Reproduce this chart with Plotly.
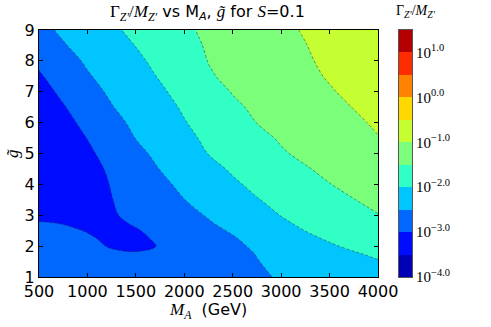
import numpy as np
import plotly.graph_objects as go

# ---------------- data ----------------
mass_A = [500, 750, 1000, 1250, 1500, 1750, 2000, 2250, 2500, 2750, 3000, 3250, 3500, 3750, 4000]
g_tilde = [1, 1.5, 1.75, 2, 2.25, 2.5, 2.75, 3, 3.5, 4, 4.5, 5, 5.5, 6, 6.5, 7, 7.5, 8, 8.5, 9]

# log10(Gamma_Z'/M_Z'), one row per g_tilde value, columns follow mass_A
log_width_ratio = [
    [-2.78, -2.80, -2.83, -2.86, -2.87, -2.83, -2.76, -2.68, -2.61, -2.55, -2.47, -2.39, -2.31, -2.23, -2.15],
    [-2.82, -2.85, -2.88, -2.92, -2.93, -2.86, -2.76, -2.68, -2.60, -2.51, -2.42, -2.32, -2.22, -2.13, -2.03],
    [-2.85, -2.88, -2.91, -2.96, -2.98, -2.90, -2.78, -2.69, -2.59, -2.49, -2.37, -2.26, -2.15, -2.04, -1.92],
    [-2.87, -2.90, -2.94, -3.02, -3.05, -2.99, -2.85, -2.71, -2.58, -2.44, -2.31, -2.18, -2.05, -1.92, -1.80],
    [-2.90, -2.93, -2.975, -3.04, -3.06, -2.955, -2.81, -2.67, -2.53, -2.38, -2.24, -2.09, -1.95, -1.83, -1.70],
    [-2.93, -2.96, -3.01, -3.08, -3.035, -2.875, -2.745, -2.60, -2.46, -2.30, -2.15, -1.995, -1.86, -1.72, -1.58],
    [-2.98, -3.01, -3.08, -3.10, -2.95, -2.81, -2.67, -2.53, -2.38, -2.22, -2.06, -1.92, -1.79, -1.67, -1.54],
    [-3.08, -3.12, -3.14, -3.04, -2.90, -2.76, -2.62, -2.47, -2.31, -2.15, -1.99, -1.88, -1.76, -1.64, -1.515],
    [-3.30, -3.26, -3.16, -3.01, -2.84, -2.67, -2.505, -2.34, -2.18, -2.02, -1.89, -1.76, -1.64, -1.51, -1.38],
    [-3.35, -3.30, -3.18, -2.98, -2.79, -2.59, -2.41, -2.23, -2.06, -1.91, -1.78, -1.64, -1.51, -1.39, -1.26],
    [-3.36, -3.30, -3.15, -2.93, -2.71, -2.49, -2.31, -2.12, -1.95, -1.81, -1.67, -1.53, -1.41, -1.29, -1.18],
    [-3.36, -3.28, -3.08, -2.84, -2.61, -2.39, -2.19, -1.99, -1.84, -1.69, -1.54, -1.42, -1.31, -1.19, -1.08],
    [-3.34, -3.24, -2.99, -2.74, -2.49, -2.30, -2.10, -1.92, -1.76, -1.60, -1.46, -1.35, -1.23, -1.12, -1.015],
    [-3.30, -3.14, -2.88, -2.63, -2.41, -2.22, -2.02, -1.85, -1.67, -1.495, -1.39, -1.28, -1.17, -1.06, -0.95],
    [-3.28, -3.03, -2.77, -2.52, -2.32, -2.14, -1.95, -1.76, -1.57, -1.43, -1.32, -1.21, -1.10, -0.99, -0.87],
    [-3.17, -2.91, -2.65, -2.43, -2.24, -2.06, -1.86, -1.66, -1.48, -1.37, -1.25, -1.14, -1.03, -0.92, -0.81],
    [-3.05, -2.79, -2.54, -2.34, -2.16, -1.97, -1.76, -1.54, -1.41, -1.30, -1.19, -1.08, -0.97, -0.86, -0.74],
    [-2.92, -2.67, -2.44, -2.26, -2.08, -1.89, -1.69, -1.49, -1.38, -1.27, -1.16, -1.04, -0.93, -0.82, -0.70],
    [-2.70, -2.53, -2.35, -2.17, -1.99, -1.80, -1.62, -1.46, -1.35, -1.23, -1.12, -1.01, -0.89, -0.78, -0.67],
    [-2.62, -2.43, -2.25, -2.07, -1.90, -1.73, -1.56, -1.43, -1.31, -1.20, -1.08, -0.97, -0.85, -0.74, -0.63],
]

level_start = -4.0
level_end = 1.5
level_step = 0.5

x_tick_vals = [500, 1000, 1500, 2000, 2500, 3000, 3500, 4000]
y_tick_vals = [1, 2, 3, 4, 5, 6, 7, 8, 9]
cbar_tick_vals = [-4, -3, -2, -1, 0, 1]
cbar_tick_text = ["10<sup>\u22124.0</sup>", "10<sup>\u22123.0</sup>", "10<sup>\u22122.0</sup>",
                  "10<sup>\u22121.0</sup>", "10<sup>0.0</sup>", "10<sup>1.0</sup>"]

# ---------------- style ----------------
band_colors = [
    "rgb(0,0,180)", "rgb(0,12,255)", "rgb(0,104,255)", "rgb(0,197,255)",
    "rgb(49,255,198)", "rgb(123,255,123)", "rgb(198,255,49)", "rgb(255,216,0)",
    "rgb(255,130,0)", "rgb(255,44,0)", "rgb(180,0,0)",
]
n_bands = len(band_colors)

# contour fill colours: plotly samples band k at fraction (k+1.5)/12
contour_scale = [[0.0, band_colors[0]]]
for k, c in enumerate(band_colors):
    contour_scale.append([(k + 1) / 12, c])
    contour_scale.append([(k + 2) / 12, c])

# colourbar (drawn as a heatmap column)
bar_scale = []
for k, c in enumerate(band_colors):
    bar_scale.append([k / n_bands, c])
    bar_scale.append([(k + 1) / n_bands, c])
band_centers = list(np.arange(level_start + level_step / 2, level_end, level_step))

W, H = 491, 327
L, R, T, B = 39, 412, 30, 277   # pixel box covering plot + colourbar
pw, ph = R - L, B - T
plot_right = 378
cb_left = 399

def px(x):
    return (x - L) / pw

def py(y):
    return (B - y) / ph

SERIF = "Liberation Serif"
SANS = "DejaVu Sans"

fig = go.Figure()
fig.add_trace(go.Contour(
    x=mass_A, y=g_tilde, z=log_width_ratio,
    autocontour=False,
    contours=dict(start=level_start, end=level_end, size=level_step, coloring="fill"),
    colorscale=contour_scale, showscale=False,
    line=dict(color="rgba(30,30,30,0.75)", width=0.6, dash="3px,2px", smoothing=1.0),
    xaxis="x", yaxis="y", hoverinfo="skip",
))
fig.add_trace(go.Heatmap(
    x=[0], y=band_centers, z=[[k] for k in range(n_bands)],
    zmin=-0.5, zmax=n_bands - 0.5, colorscale=bar_scale, showscale=False,
    xaxis="x2", yaxis="y2", hoverinfo="skip",
))

axis_common = dict(showline=True, linecolor="black", linewidth=1, mirror="allticks",
                   ticks="inside", ticklen=4, tickcolor="black", showgrid=False, zeroline=False,
                   tickfont=dict(family=SANS, size=16, color="black"))

fig.update_layout(
    width=W, height=H,
    margin=dict(l=L, r=W - R, t=T, b=H - B, pad=0),
    paper_bgcolor="white", plot_bgcolor="white",
    showlegend=False,
    xaxis=dict(domain=[0, px(plot_right)], range=[500, 4000], tickvals=x_tick_vals,
               anchor="y", **axis_common),
    yaxis=dict(domain=[0, 1], range=[1, 9], tickvals=y_tick_vals, anchor="x", **axis_common),
    xaxis2=dict(domain=[px(cb_left), 1], range=[-0.5, 0.5], showticklabels=False, ticks="",
                showline=True, mirror=True, linecolor="#555", linewidth=1, showgrid=False,
                zeroline=False, anchor="y2"),
    yaxis2=dict(domain=[0, 1], range=[level_start, level_end], side="right", anchor="x2",
                tickvals=cbar_tick_vals, ticktext=cbar_tick_text, ticks="", showline=True,
                mirror=True, linecolor="#555", linewidth=1, showgrid=False, zeroline=False,
                tickfont=dict(family=SERIF, size=15, color="black")),
)

serif_span = '<span style="font-family:%s;font-size:17px">' % SERIF
title_txt = (serif_span + "\u0393<sub><i>Z\u2032</i></sub>/<i>M</i><sub><i>Z\u2032</i></sub></span>"
             + " vs M<sub><i>A</i></sub>, " + serif_span + "<i>g\u0303</i></span> for "
             + serif_span + "<i>S</i></span>=0.1")
fig.add_annotation(text=title_txt, xref="paper", yref="paper", x=px(207), y=py(13),
                   xanchor="center", yanchor="middle", showarrow=False,
                   font=dict(family=SANS, size=16, color="black"))
fig.add_annotation(text="\u0393<sub><i>Z\u2032</i></sub>/<i>M</i><sub><i>Z\u2032</i></sub>",
                   xref="paper", yref="paper", x=px(416), y=py(12),
                   xanchor="center", yanchor="middle", showarrow=False,
                   font=dict(family=SERIF, size=14, color="black"))
fig.add_annotation(text=serif_span + "<i>M<sub>A</sub></i></span>  (GeV)",
                   xref="paper", yref="paper", x=px(208), y=py(311),
                   xanchor="center", yanchor="middle", showarrow=False,
                   font=dict(family=SANS, size=16, color="black"))
fig.add_annotation(text="<i>g\u0303</i>", xref="paper", yref="paper", x=px(12), y=py(153),
                   xanchor="center", yanchor="middle", showarrow=False, textangle=-90,
                   font=dict(family=SERIF, size=17, color="black"))

fig.write_html("out.html", config={"displayModeBar": False},
               post_script="document.body.style.margin='0';document.body.style.overflow='hidden';")
